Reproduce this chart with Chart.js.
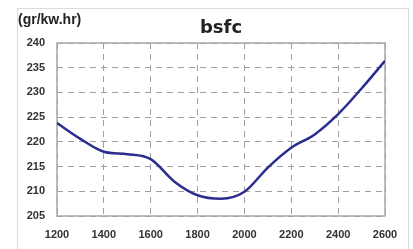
<!DOCTYPE html>
<html><head><meta charset="utf-8">
<script src="https://cdn.jsdelivr.net/npm/chart.js@4"></script>
<style>
html,body{margin:0;padding:0;background:#fff;}
#wrap{position:relative;width:413px;height:249px;overflow:hidden;}
#frame{position:absolute;left:17px;top:8px;width:392px;height:260px;border:1px solid #dcdcdc;box-sizing:border-box;}
canvas{position:absolute;left:0;top:0;}
</style></head>
<body><div id="wrap"><div id="frame"></div><canvas id="c" width="413" height="249"></canvas></div>
<script>
const rpm = [1200,1300,1400,1500,1600,1700,1800,1900,2000,2100,2200,2300,2400,2500,2600];
const bsfc = [223.8,220.6,218.0,217.5,216.5,212.0,209.2,208.5,209.9,214.8,218.8,221.5,225.6,230.8,236.4];
const yTicks = [205,210,215,220,225,230,235,240];
const xTicks = [1200,1400,1600,1800,2000,2200,2400,2600];
const titleText = 'bsfc';
const unitText = '(gr/kw.hr)';

const tickFont = {family:'"Liberation Sans", Arial, sans-serif', size:11, weight:'bold'};

const framePlugin = {
  id:'frame',
  beforeDatasetsDraw(chart){
    const a = chart.chartArea, ctx = chart.ctx;
    ctx.save();
    ctx.strokeStyle = '#a8a8a8';
    ctx.lineWidth = 1.5;
    ctx.strokeRect(a.left, a.top, a.right-a.left, a.bottom-a.top);
    ctx.restore();
  },
  afterDraw(chart){
    const ctx = chart.ctx;
    ctx.save();
    ctx.fillStyle = '#222';
    ctx.font = 'bold 14px "Liberation Sans", Arial, sans-serif';
    ctx.textBaseline = 'middle';
    ctx.textAlign = 'left';
    ctx.fillText(unitText, chart.chartArea.left - 39, 20);
    ctx.restore();
  }
};

new Chart(document.getElementById('c'), {
  type:'line',
  data:{
    datasets:[{
      data: rpm.map((x,i)=>({x:x, y:bsfc[i]})),
      borderColor:'#2b2e8f',
      borderWidth:2.5,
      pointRadius:0,
      cubicInterpolationMode:'monotone',
      fill:false
    }]
  },
  options:{
    responsive:false,
    animation:false,
    layout:{padding:{left:0,right:28,top:8,bottom:0}},
    plugins:{
      legend:{display:false},
      tooltip:{enabled:false},
      title:{
        display:true, text:titleText, fullSize:false,
        color:'#222',
        font:{family:'"DejaVu Sans", sans-serif', size:18, weight:'bold'},
        padding:{top:10,bottom:3.4}
      }
    },
    scales:{
      x:{
        type:'linear', min:1200, max:2600,
        afterBuildTicks(s){ s.ticks = xTicks.map(v=>({value:v})); },
        afterFit(s){ s.height = 33; },
        border:{display:false, dash:[6,5]},
        grid:{color:'#a0a0a0', lineWidth:1, drawTicks:false, tickLength:0},
        ticks:{color:'#333', font:tickFont, padding:12, maxRotation:0,
               callback:(v)=>String(v)}
      },
      y:{
        min:205, max:240,
        afterBuildTicks(s){ s.ticks = yTicks.map(v=>({value:v})); },
        afterFit(s){ s.width = 57; },
        border:{display:false, dash:[6,5]},
        grid:{color:'#a0a0a0', lineWidth:1, drawTicks:false, tickLength:0},
        ticks:{color:'#333', font:tickFont, padding:12, callback:(v)=>String(v)}
      }
    }
  },
  plugins:[framePlugin]
});
</script></body></html>
